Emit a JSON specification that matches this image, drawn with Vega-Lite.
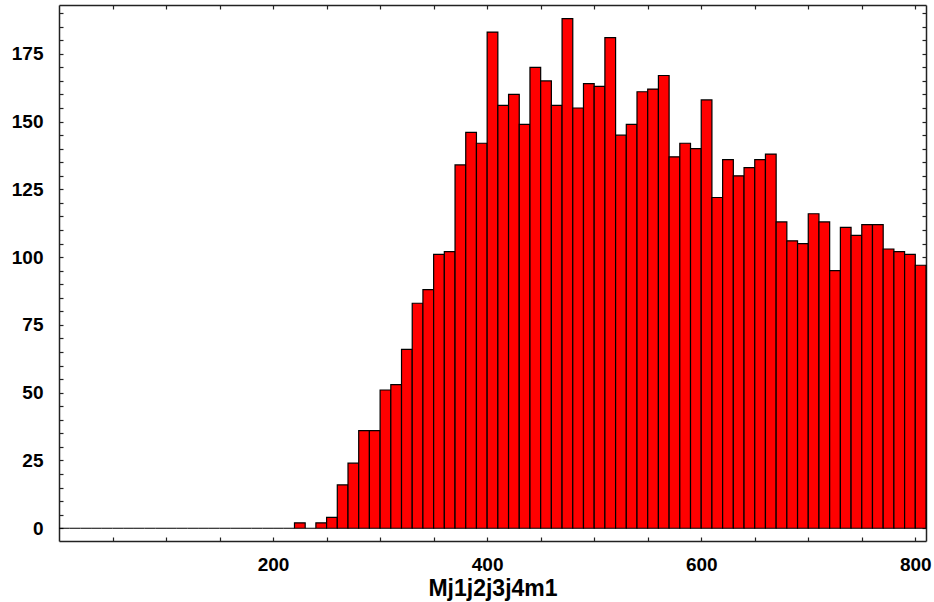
{
  "$schema": "https://vega.github.io/schema/vega-lite/v6.json",
  "width": 867,
  "height": 536,
  "autosize": "none",
  "padding": {"left": 59, "top": 5, "right": 8, "bottom": 61},
  "background": "white",
  "config": {"view": {"stroke": null}, "font": "Liberation Sans"},
  "data": {"values": [
    {"lo":0,"hi":10,"n":0},{"lo":10,"hi":20,"n":0},{"lo":20,"hi":30,"n":0},{"lo":30,"hi":40,"n":0},
    {"lo":40,"hi":50,"n":0},{"lo":50,"hi":60,"n":0},{"lo":60,"hi":70,"n":0},{"lo":70,"hi":80,"n":0},
    {"lo":80,"hi":90,"n":0},{"lo":90,"hi":100,"n":0},{"lo":100,"hi":110,"n":0},{"lo":110,"hi":120,"n":0},
    {"lo":120,"hi":130,"n":0},{"lo":130,"hi":140,"n":0},{"lo":140,"hi":150,"n":0},{"lo":150,"hi":160,"n":0},
    {"lo":160,"hi":170,"n":0},{"lo":170,"hi":180,"n":0},{"lo":180,"hi":190,"n":0},{"lo":190,"hi":200,"n":0},
    {"lo":200,"hi":210,"n":0},{"lo":210,"hi":220,"n":0},{"lo":220,"hi":230,"n":2},{"lo":230,"hi":240,"n":0},
    {"lo":240,"hi":250,"n":2},{"lo":250,"hi":260,"n":4},{"lo":260,"hi":270,"n":16},{"lo":270,"hi":280,"n":24},
    {"lo":280,"hi":290,"n":36},{"lo":290,"hi":300,"n":36},{"lo":300,"hi":310,"n":51},{"lo":310,"hi":320,"n":53},
    {"lo":320,"hi":330,"n":66},{"lo":330,"hi":340,"n":83},{"lo":340,"hi":350,"n":88},{"lo":350,"hi":360,"n":101},
    {"lo":360,"hi":370,"n":102},{"lo":370,"hi":380,"n":134},{"lo":380,"hi":390,"n":146},{"lo":390,"hi":400,"n":142},
    {"lo":400,"hi":410,"n":183},{"lo":410,"hi":420,"n":156},{"lo":420,"hi":430,"n":160},{"lo":430,"hi":440,"n":149},
    {"lo":440,"hi":450,"n":170},{"lo":450,"hi":460,"n":165},{"lo":460,"hi":470,"n":156},{"lo":470,"hi":480,"n":188},
    {"lo":480,"hi":490,"n":155},{"lo":490,"hi":500,"n":164},{"lo":500,"hi":510,"n":163},{"lo":510,"hi":520,"n":181},
    {"lo":520,"hi":530,"n":145},{"lo":530,"hi":540,"n":149},{"lo":540,"hi":550,"n":161},{"lo":550,"hi":560,"n":162},
    {"lo":560,"hi":570,"n":167},{"lo":570,"hi":580,"n":137},{"lo":580,"hi":590,"n":142},{"lo":590,"hi":600,"n":140},
    {"lo":600,"hi":610,"n":158},{"lo":610,"hi":620,"n":122},{"lo":620,"hi":630,"n":136},{"lo":630,"hi":640,"n":130},
    {"lo":640,"hi":650,"n":133},{"lo":650,"hi":660,"n":136},{"lo":660,"hi":670,"n":138},{"lo":670,"hi":680,"n":113},
    {"lo":680,"hi":690,"n":106},{"lo":690,"hi":700,"n":105},{"lo":700,"hi":710,"n":116},{"lo":710,"hi":720,"n":113},
    {"lo":720,"hi":730,"n":95},{"lo":730,"hi":740,"n":111},{"lo":740,"hi":750,"n":108},{"lo":750,"hi":760,"n":112},
    {"lo":760,"hi":770,"n":112},{"lo":770,"hi":780,"n":103},{"lo":780,"hi":790,"n":102},{"lo":790,"hi":800,"n":101},
    {"lo":800,"hi":810,"n":97}
  ]},
  "resolve": {"axis": {"x": "independent", "y": "independent"}},
  "layer": [
    {
      "mark": {"type": "bar", "fill": "#ff0000", "stroke": "#000000", "strokeWidth": 1.2},
      "encoding": {
        "x": {"field": "lo", "type": "quantitative",
          "scale": {"domain": [0, 810], "nice": false, "zero": false},
          "axis": {"orient": "bottom", "title": "Mj1j2j3j4m1", "grid": false,
            "values": [50,100,150,200,250,300,350,400,450,500,550,600,650,700,750,800],
            "labelExpr": "datum.value % 200 === 0 ? datum.label : ''",
            "tickSize": -4, "tickColor": "#222", "tickWidth": 1.2,
            "domainColor": "#222", "domainWidth": 1.5,
            "labelFont": "Liberation Sans", "labelFontWeight": "bold", "labelFontSize": 19, "labelColor": "#000",
            "labelPadding": 18, "labelFlush": false,
            "titleFont": "Liberation Sans", "titleFontWeight": "bold", "titleFontSize": 23, "titleColor": "#000",
            "titleBaseline": "alphabetic", "titleY": 54}},
        "x2": {"field": "hi"},
        "y": {"field": "n", "type": "quantitative",
          "scale": {"domain": [-4.7, 193], "nice": false, "zero": false},
          "axis": {"orient": "left", "title": null, "grid": false,
            "values": [0,5,10,15,20,25,30,35,40,45,50,55,60,65,70,75,80,85,90,95,100,105,110,115,120,125,130,135,140,145,150,155,160,165,170,175,180,185,190],
            "labelExpr": "datum.value % 25 === 0 ? datum.label : ''",
            "tickSize": -4, "tickColor": "#222", "tickWidth": 1.2,
            "domainColor": "#222", "domainWidth": 1.5,
            "labelFont": "Liberation Sans", "labelFontWeight": "bold", "labelFontSize": 19, "labelColor": "#000",
            "labelPadding": 20, "labelFlush": false}},
        "y2": {"datum": 0}
      }
    },
    {
      "mark": {"type": "point", "opacity": 0},
      "encoding": {
        "x": {"field": "lo", "type": "quantitative",
          "axis": {"orient": "top", "title": null, "grid": false, "labels": false,
            "values": [50,100,150,200,250,300,350,400,450,500,550,600,650,700,750,800],
            "tickSize": -4, "tickColor": "#222", "tickWidth": 1.2,
            "domainColor": "#222", "domainWidth": 1.5}},
        "y": {"field": "n", "type": "quantitative",
          "axis": {"orient": "right", "title": null, "grid": false, "labels": false,
            "values": [0,5,10,15,20,25,30,35,40,45,50,55,60,65,70,75,80,85,90,95,100,105,110,115,120,125,130,135,140,145,150,155,160,165,170,175,180,185,190],
            "tickSize": -4, "tickColor": "#222", "tickWidth": 1.2,
            "domainColor": "#222", "domainWidth": 1.5}}
      }
    }
  ]
}
